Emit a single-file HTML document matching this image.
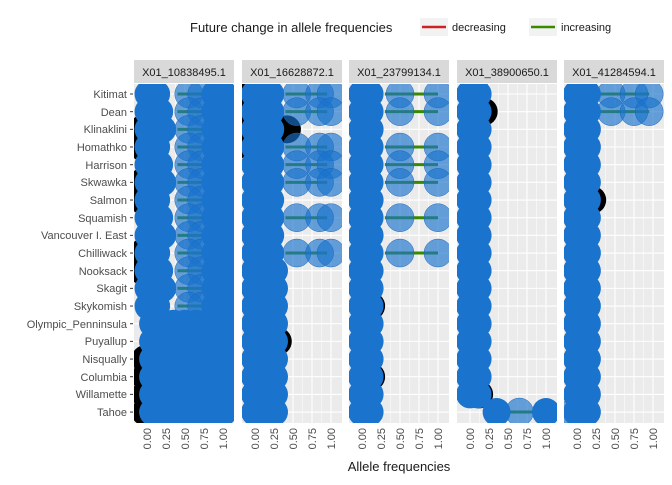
<!DOCTYPE html>
<html><head><style>
body{margin:0;background:#fff;}
svg text{font-family:"Liberation Sans",sans-serif;}
</style></head><body>
<svg id="s" width="672" height="480" xmlns="http://www.w3.org/2000/svg">
<rect width="672" height="480" fill="#fff"/>
<text x="190" y="32" font-size="13" fill="#1a1a1a">Future change in allele frequencies</text>
<rect x="420" y="18" width="28" height="18" fill="#f2f2f2"/>
<line x1="422" y1="27" x2="446" y2="27" stroke="#cc2222" stroke-width="2.5"/>
<text x="452" y="31" font-size="11" fill="#1a1a1a">decreasing</text>
<rect x="529" y="18" width="28" height="18" fill="#f2f2f2"/>
<line x1="531" y1="27" x2="555" y2="27" stroke="#3a8a00" stroke-width="2.5"/>
<text x="561" y="31" font-size="11" fill="#1a1a1a">increasing</text>
<g id="panels"></g>
<g font-size="11" fill="#4d4d4d" text-anchor="end">
<text x="127" y="98">Kitimat</text>
<text x="127" y="116">Dean</text>
<text x="127" y="133">Klinaklini</text>
<text x="127" y="151">Homathko</text>
<text x="127" y="169">Harrison</text>
<text x="127" y="186">Skwawka</text>
<text x="127" y="204">Salmon</text>
<text x="127" y="222">Squamish</text>
<text x="127" y="239">Vancouver I. East</text>
<text x="127" y="257">Chilliwack</text>
<text x="127" y="275">Nooksack</text>
<text x="127" y="292">Skagit</text>
<text x="127" y="310">Skykomish</text>
<text x="127" y="328">Olympic_Penninsula</text>
<text x="127" y="345">Puyallup</text>
<text x="127" y="363">Nisqually</text>
<text x="127" y="381">Columbia</text>
<text x="127" y="398">Willamette</text>
<text x="127" y="416">Tahoe</text>
</g>
<g font-size="11" fill="#1a1a1a" text-anchor="middle">
<text x="184" y="76">X01_10838495.1</text>
<text x="292" y="76">X01_16628872.1</text>
<text x="399" y="76">X01_23799134.1</text>
<text x="507" y="76">X01_38900650.1</text>
<text x="614" y="76">X01_41284594.1</text>
</g>
<g id="ticks" font-size="11" fill="#4d4d4d"></g>
<text x="399" y="471" font-size="13" fill="#1a1a1a" text-anchor="middle">Allele frequencies</text>
</svg>
<script>
var NS="http://www.w3.org/2000/svg";
var P=document.getElementById("panels"),T=document.getElementById("ticks");
function el(n,a,p){var e=document.createElementNS(NS,n);for(var k in a)e.setAttribute(k,a[k]);(p||P).appendChild(e);return e;}
var L=[134,242,349,457,564];
var strip=[[134,234],[242,342],[349,449],[457,557],[564,664]];
function ry(i){return 94+i*17.67;}
var labs=["0.00","0.25","0.50","0.75","1.00"];
function sx(p,v){return L[p]+13+v*76;}
var panels=[
 {solid:function(i){return i<13?[0.02,0.12+(i%3)*0.04,0.9,1.0]:[0.08,0.2,0.35,0.5,0.65,0.8,0.95,1.0];},
  black:function(i){return [2,3,5,6,9,10].indexOf(i)>=0?[-0.06]:(i>14?[-0.02]:[]);},
  tr:function(i){return i<13?[0.55,0.72]:[];}, line:function(i){return i<13?[0.4,0.85]:(i==13?[0.55,0.75]:null);}},
 {solid:function(i){return i<10?[0.0,0.12,0.2]:[0.0,0.12,0.25];},
  black:function(i){return i==2?[0.42,-0.05]:(i<4?[-0.05]:(i==14?[0.3]:[]));},
  tr:function(i){return [0,1,3,4,5,7,9].indexOf(i)>=0?[0.55,0.85,1.0]:[];},
  line:function(i){return [0,1,3,4,5,7,9].indexOf(i)>=0?[0.4,0.95]:null;}},
 {solid:function(i){return [0.0,0.1];},black:function(i){return i==12||i==16?[0.12]:[];},
  tr:function(i){return [0,1,3,4,5,7,9].indexOf(i)>=0?[0.5,1.0]:[];},
  line:function(i){return [0,1,3,4,5,7,9].indexOf(i)>=0?[0.3,1.0]:null;}},
 {solid:function(i){return i<18?[0.0,0.1]:[0.35,1.0];},black:function(i){return i==1?[0.18]:(i==17?[0.12]:[]);},
  tr:function(i){return i==18?[0.65]:[];},line:function(i){return i==18?[0.35,1.0]:null;}},
 {solid:function(i){return [0.0,0.13];},black:function(i){return i==6?[0.2]:[];},
  tr:function(i){return i<2?[0.45,0.75,0.95]:(i==18?[-0.05]:[]);},line:function(i){return i<2?[0.3,0.95]:null;}}
];
for(var p=0;p<5;p++){
 var x0=strip[p][0],x1=strip[p][1];
 el("rect",{x:x0,y:60,width:x1-x0,height:23,fill:"#d9d9d9"});
 el("rect",{x:x0,y:84,width:x1-x0,height:339,fill:"#ebebeb"});
 var cp=el("clipPath",{id:"c"+p});el("rect",{x:x0,y:84,width:x1-x0,height:339},cp);
 var g=el("g",{"clip-path":"url(#c"+p+")"});
 for(var t=0;t<5;t++){var x=sx(p,t*0.25);
  el("line",{x1:x,y1:84,x2:x,y2:423,stroke:"#fff","stroke-width":1.1},g);
  if(t<4)el("line",{x1:x+9.5,y1:84,x2:x+9.5,y2:423,stroke:"#fff","stroke-width":0.5},g);
  var tt=el("text",{transform:"translate("+(x+4)+",428) rotate(-90)","text-anchor":"end"},T);tt.textContent=labs[t];
 }
 for(var i=0;i<19;i++)el("line",{x1:x0,y1:ry(i),x2:x1,y2:ry(i),stroke:"#fff","stroke-width":1.1},g);
 var s=panels[p];
 for(var i=0;i<19;i++){s.black(i).forEach(function(v){el("circle",{cx:sx(p,v),cy:ry(i),r:14,fill:"#000"},g);});}
 for(var i=0;i<19;i++){var l=s.line(i);if(l)el("line",{x1:sx(p,l[0]),y1:ry(i),x2:sx(p,l[1]),y2:ry(i),stroke:"#3a8a00","stroke-width":3},g);}
 for(var i=0;i<19;i++){s.tr(i).forEach(function(v){el("circle",{cx:sx(p,v),cy:ry(i),r:14,fill:"#1a73cc","fill-opacity":0.65,stroke:"#1a66bb","stroke-width":0.5},g);});}
 for(var i=0;i<19;i++){s.solid(i).forEach(function(v){el("circle",{cx:sx(p,v),cy:ry(i),r:14,fill:"#1a73cc"},g);});}
}
for(var i=0;i<19;i++)el("line",{x1:130,y1:ry(i),x2:133,y2:ry(i),stroke:"#333"},T);
</script>
</body></html>
